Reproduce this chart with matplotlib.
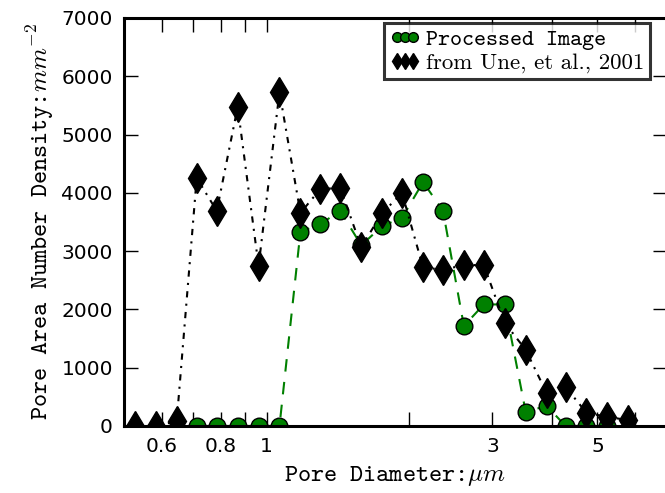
import matplotlib
matplotlib.use("Agg")
import matplotlib.pyplot as plt
from matplotlib.lines import Line2D

plt.rcParams['mathtext.fontset'] = 'cm'

# pore diameter (um)
diam_une = [0.527, 0.584, 0.646, 0.712, 0.785, 0.869, 0.962, 1.065, 1.179, 1.299,
            1.431, 1.585, 1.755, 1.933, 2.141, 2.359, 2.611, 2.877, 3.185, 3.527,
            3.905, 4.280, 4.740, 5.248, 5.809]
dens_une = [0, 0, 80, 4255, 3690, 5475, 2745, 5730, 3655, 4065,
            4085, 3070, 3655, 3995, 2720, 2680, 2760, 2760, 1770, 1305,
            565, 670, 225, 155, 100]

diam_img = [0.712, 0.785, 0.869, 0.962, 1.065, 1.179, 1.299, 1.431, 1.585, 1.755,
            1.933, 2.141, 2.359, 2.611, 2.877, 3.185, 3.527, 3.905, 4.280, 4.740,
            5.248]
dens_img = [0, 0, 0, 0, 0, 3330, 3465, 3690, 3100, 3430,
            3570, 4185, 3690, 1715, 2085, 2085, 240, 345, 0, 0,
            0]

xticks = [0.6, 0.7, 0.8, 0.9, 1, 2, 3, 4, 5, 6]
xticklabels = ['0.6', '', '0.8', '', '1', '', '3', '', '5', '']
yticks = [0, 1000, 2000, 3000, 4000, 5000, 6000, 7000]

fig = plt.figure(figsize=(6.65, 4.93), dpi=100)
ax = fig.add_axes([0.1865, 0.136, 0.816, 0.8275])

ax.plot(diam_img, dens_img, color='green', lw=1.5, dashes=(6, 5), marker='o',
        markersize=12, markerfacecolor='green', markeredgecolor='black',
        markeredgewidth=1)
ax.plot(diam_une, dens_une, color='black', lw=1.5, dashes=(3, 3, 1, 3), marker='d',
        markersize=15, markerfacecolor='black', markeredgecolor='black')

ax.set_xscale('log')
ax.set_xlim(0.5, 7)
ax.set_ylim(0, 7000)
ax.set_xticks(xticks)
ax.set_xticklabels(xticklabels)
ax.xaxis.set_minor_locator(matplotlib.ticker.NullLocator())
ax.set_yticks(yticks)
ax.tick_params(direction='in', length=10, width=1, labelsize=14.5,
               top=True, right=True, pad=8)

for s in ax.spines.values():
    s.set_linewidth(2.2)

ax.set_xlabel(r'Pore Diameter:$\mu m$', family='cmtt10', fontsize=18, labelpad=6)
ax.set_ylabel(r'Pore Area Number Density:$mm^{-2}$', family='cmtt10', fontsize=18, labelpad=4)

# small markers for the legend keys
h_img = Line2D([], [], linestyle='none', marker='o', markersize=7,
               markerfacecolor='green', markeredgecolor='black', markeredgewidth=1)
h_une = Line2D([], [], linestyle='none', marker='d', markersize=8,
               markerfacecolor='black', markeredgecolor='black')
leg = ax.legend([h_img, h_une], ['Processed Image', 'from Une, et al., 2001'],
                loc='upper right', bbox_to_anchor=(0.97, 0.987), numpoints=3,
                fontsize=16.5, handlelength=1.3, handletextpad=0.3,
                borderpad=0.25, labelspacing=0.12, fancybox=False,
                borderaxespad=0)
leg.get_frame().set_edgecolor('black')
leg.get_frame().set_linewidth(2.2)
leg.get_texts()[0].set_family('cmtt10')
leg.get_texts()[1].set_family('cmr10')

fig.savefig('out.png', dpi=100)
